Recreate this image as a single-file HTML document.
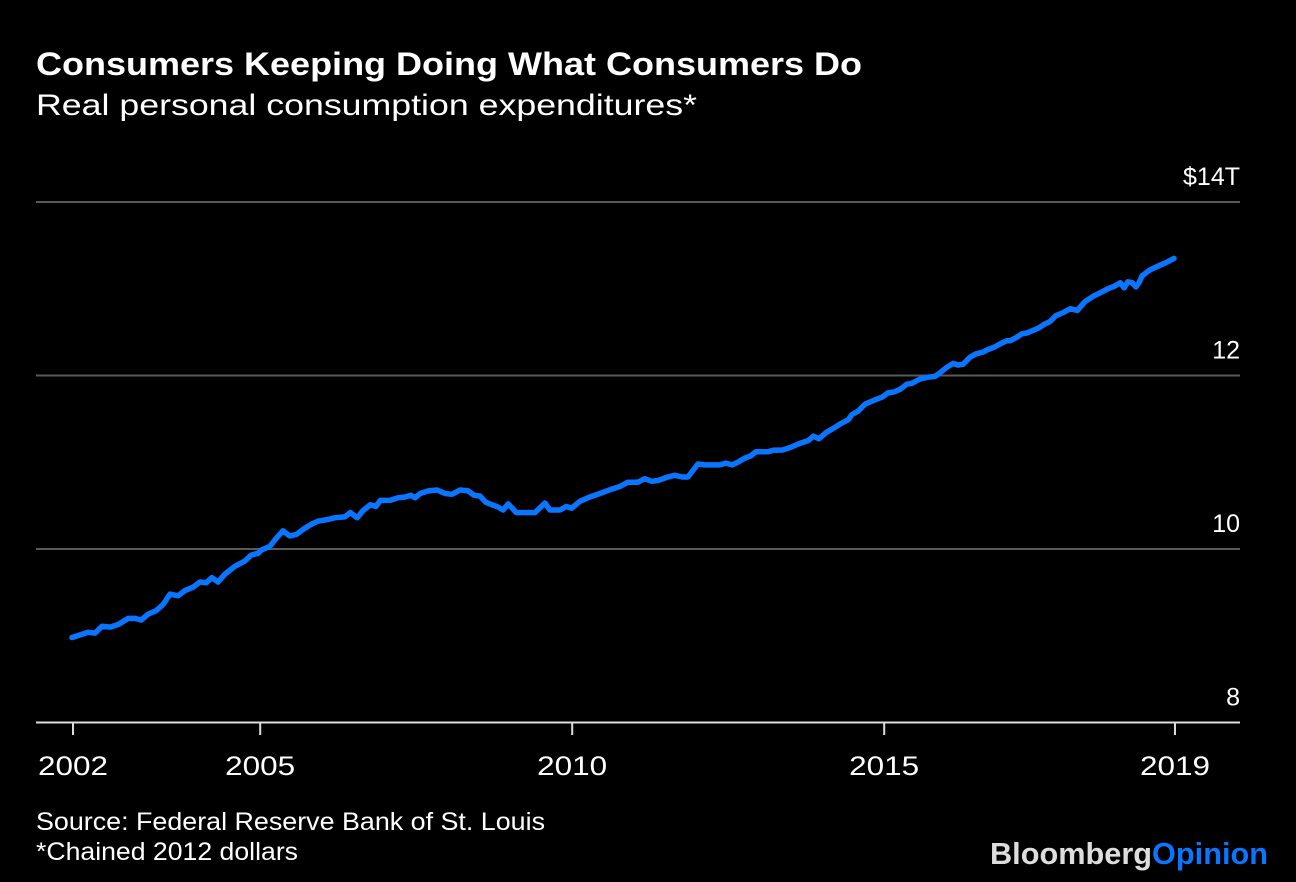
<!DOCTYPE html>
<html><head><meta charset="utf-8"><style>
body{margin:0;background:#000;width:1296px;height:882px;overflow:hidden;font-family:"Liberation Sans",sans-serif;color:#fff}
svg{position:absolute;left:0;top:0}
</style></head><body>
<svg width="1296" height="882">
<text x="36" y="75" font-size="32" font-weight="bold" fill="#fff" textLength="826" lengthAdjust="spacingAndGlyphs">Consumers Keeping Doing What Consumers Do</text>
<text x="36" y="115" font-size="30" fill="#fff" textLength="661" lengthAdjust="spacingAndGlyphs">Real personal consumption expenditures*</text>
<g id="grid"></g>
<g id="xaxis"></g>
<path id="line" fill="none" stroke="#0a75ff" stroke-width="5.5" stroke-linejoin="round" stroke-linecap="round"></path>
<text x="36" y="830" font-size="25" fill="#fff" textLength="509" lengthAdjust="spacingAndGlyphs">Source: Federal Reserve Bank of St. Louis</text>
<text x="36" y="860" font-size="25" fill="#fff" textLength="262" lengthAdjust="spacingAndGlyphs">*Chained 2012 dollars</text>
<text x="990" y="864" font-size="31" font-weight="bold" textLength="278" lengthAdjust="spacingAndGlyphs"><tspan fill="#ddd">Bloomberg</tspan><tspan fill="#0a75ff">Opinion</tspan></text>
</svg>
<script>
const years=[2002.00,2002.13,2002.26,2002.37,2002.48,2002.61,2002.74,2002.90,2003.01,2003.11,2003.22,2003.35,2003.46,2003.57,2003.70,2003.81,2003.94,2004.05,2004.15,2004.24,2004.34,2004.45,2004.61,2004.77,2004.87,2004.98,2005.04,2005.17,2005.27,2005.38,2005.49,2005.60,2005.73,2005.85,2005.94,2006.10,2006.21,2006.37,2006.46,2006.57,2006.66,2006.78,2006.87,2006.94,2007.10,2007.22,2007.34,2007.43,2007.50,2007.58,2007.71,2007.85,2007.98,2008.09,2008.22,2008.35,2008.44,2008.54,2008.63,2008.73,2008.81,2008.91,2008.99,2009.12,2009.28,2009.42,2009.58,2009.66,2009.82,2009.92,2010.01,2010.14,2010.30,2010.46,2010.65,2010.78,2010.91,2011.07,2011.18,2011.29,2011.39,2011.55,2011.66,2011.78,2011.87,2012.03,2012.14,2012.26,2012.38,2012.48,2012.58,2012.67,2012.79,2012.87,2012.96,2013.06,2013.15,2013.25,2013.38,2013.51,2013.67,2013.80,2013.88,2013.97,2014.08,2014.20,2014.31,2014.44,2014.50,2014.60,2014.71,2014.87,2014.98,2015.08,2015.17,2015.27,2015.38,2015.46,2015.59,2015.72,2015.83,2015.91,2016.01,2016.12,2016.20,2016.28,2016.39,2016.49,2016.60,2016.68,2016.79,2016.89,2016.98,2017.03,2017.14,2017.22,2017.30,2017.40,2017.50,2017.58,2017.67,2017.77,2017.87,2018.00,2018.11,2018.23,2018.38,2018.47,2018.60,2018.71,2018.80,2018.86,2018.92,2018.99,2019.05,2019.10,2019.15,2019.28,2019.40,2019.53,2019.66];
const values=[8.98,9.01,9.04,9.03,9.11,9.10,9.13,9.20,9.20,9.18,9.25,9.29,9.36,9.48,9.46,9.52,9.56,9.62,9.61,9.67,9.62,9.71,9.80,9.86,9.93,9.95,9.99,10.03,10.12,10.21,10.15,10.17,10.24,10.29,10.32,10.34,10.36,10.37,10.42,10.36,10.44,10.51,10.49,10.56,10.56,10.59,10.60,10.62,10.59,10.64,10.67,10.68,10.64,10.63,10.68,10.67,10.62,10.61,10.54,10.51,10.49,10.45,10.52,10.42,10.42,10.42,10.53,10.45,10.45,10.49,10.47,10.55,10.60,10.64,10.69,10.72,10.77,10.77,10.81,10.78,10.79,10.83,10.85,10.83,10.83,10.98,10.97,10.97,10.97,10.99,10.97,11.00,11.05,11.07,11.12,11.12,11.12,11.14,11.14,11.17,11.22,11.25,11.30,11.27,11.34,11.39,11.44,11.49,11.55,11.59,11.67,11.72,11.75,11.80,11.81,11.84,11.90,11.91,11.96,11.98,11.99,12.03,12.09,12.14,12.12,12.13,12.21,12.25,12.27,12.30,12.33,12.37,12.40,12.40,12.44,12.48,12.49,12.52,12.55,12.59,12.62,12.69,12.72,12.77,12.75,12.85,12.92,12.95,13.00,13.03,13.07,13.01,13.08,13.07,13.02,13.07,13.15,13.22,13.26,13.30,13.35];
const yTicks=[8,10,12,14];
const yTickLabels=["8","10","12","$14T"];
const xTicks=[2002,2005,2010,2015,2019.66];
const xTickLabels=["2002","2005","2010","2015","2019"];
const NS="http://www.w3.org/2000/svg";
const X=yr=>72+(yr-2002)*62.4;
const Y=v=>722.5-(v-8)*86.75;
const grid=document.getElementById('grid');
yTicks.forEach((t,i)=>{
  const l=document.createElementNS(NS,'line');
  l.setAttribute('x1',36);l.setAttribute('x2',1240);
  l.setAttribute('y1',Y(t));l.setAttribute('y2',Y(t));
  l.setAttribute('stroke',t===8?'#ddd':'#5a5a5a');l.setAttribute('stroke-width',2);
  
  
  grid.appendChild(l);
  const tx=document.createElementNS(NS,'text');
  tx.setAttribute('x',1240);tx.setAttribute('y',Y(t)-17);
  tx.setAttribute('text-anchor','end');tx.setAttribute('font-size','25');tx.setAttribute('fill','#fff');
  tx.textContent=yTickLabels[i];
  
  
  grid.appendChild(tx);
});
const xa=document.getElementById('xaxis');
xTicks.forEach((t,i)=>{
  const l=document.createElementNS(NS,'line');
  l.setAttribute('x1',X(t)+1);l.setAttribute('x2',X(t)+1);
  l.setAttribute('y1',723);l.setAttribute('y2',735);
  l.setAttribute('stroke','#ddd');l.setAttribute('stroke-width',2);
  
  
  xa.appendChild(l);
  const tx=document.createElementNS(NS,'text');
  tx.setAttribute('x',X(t)+1);tx.setAttribute('y',775);
  tx.setAttribute('text-anchor','middle');tx.setAttribute('font-size','27');tx.setAttribute('fill','#fff');
  tx.setAttribute('textLength','70');tx.setAttribute('lengthAdjust','spacingAndGlyphs');
  tx.textContent=xTickLabels[i];
  
  
  xa.appendChild(tx);
});
document.getElementById('line').setAttribute('d',years.map((yr,i)=>(i?'L':'M')+X(yr).toFixed(1)+','+Y(values[i]).toFixed(1)).join(''));
</script>
</body></html>
